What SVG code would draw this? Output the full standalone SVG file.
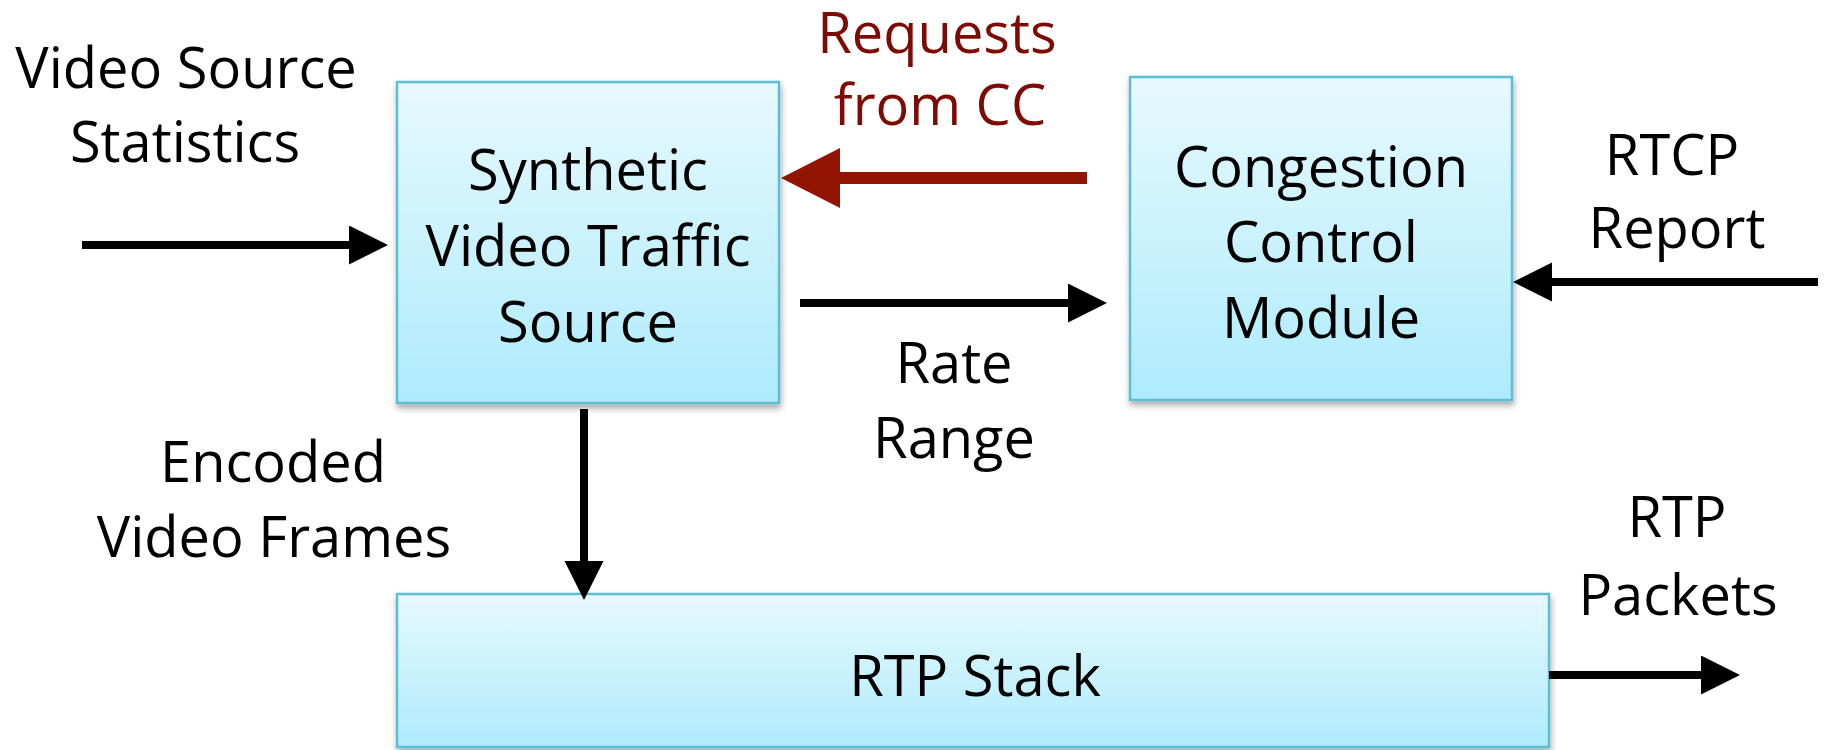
<svg xmlns="http://www.w3.org/2000/svg" width="1828" height="750" viewBox="0 0 1828 750">
  <defs>
    <linearGradient id="boxFill" x1="0" y1="0" x2="0" y2="1">
      <stop offset="0" stop-color="#E7F9FE"/>
      <stop offset="1" stop-color="#AEEBFC"/>
    </linearGradient>
    <filter id="shadow" x="-5%" y="-5%" width="115%" height="120%">
      <feDropShadow dx="1" dy="4" stdDeviation="3" flood-color="#000" flood-opacity="0.35"/>
    </filter>
    <marker id="headBlack" markerUnits="userSpaceOnUse" markerWidth="40" markerHeight="40" refX="0" refY="19.5" orient="auto">
      <path d="M0,0 L39,19.5 L0,39 Z" fill="#000"/>
    </marker>
    <marker id="headRed" markerUnits="userSpaceOnUse" markerWidth="60" markerHeight="62" refX="0" refY="30" orient="auto">
      <path d="M0,0 L59,30 L0,60 Z" fill="#921504"/>
    </marker>
  </defs>
  <style>
    .box { fill: url(#boxFill); stroke: #5DBDD5; stroke-width: 2.5; filter: url(#shadow); }
    .lbl { font-family: "Open Sans", "Noto Sans", "Liberation Sans", sans-serif; font-size: 56px; fill: #000; text-anchor: middle; }
    .inbox { font-size: 56px; }
    .red { fill: #7E0A04; }
    .conn { fill: none; stroke: #000; stroke-width: 8; marker-end: url(#headBlack); }
    .connRed { fill: none; stroke: #921504; stroke-width: 12; marker-end: url(#headRed); }
  </style>

  <g id="node-synthetic">
    <rect class="box" x="397" y="82" width="382" height="321"/>
    <text class="lbl inbox" x="588" y="190">Synthetic</text>
    <text class="lbl inbox" x="588" y="266">Video Traffic</text>
    <text class="lbl inbox" x="588" y="342">Source</text>
  </g>

  <g id="node-congestion">
    <rect class="box" x="1130" y="77" width="382" height="323"/>
    <text class="lbl inbox" x="1321" y="187">Congestion</text>
    <text class="lbl inbox" x="1321" y="262">Control</text>
    <text class="lbl inbox" x="1321" y="338">Module</text>
  </g>

  <g id="node-rtpstack">
    <rect class="box" x="397" y="594" width="1152" height="153"/>
    <text class="lbl" x="975" y="696">RTP Stack</text>
  </g>

  <g id="connectors">
    <path class="conn" d="M82,245 L349,245"/>
    <path class="conn" d="M800,303 L1068,303"/>
    <path class="conn" d="M1818,282 L1552,282"/>
    <path class="conn" d="M584,409 L584,561"/>
    <path class="conn" d="M1549,675 L1701,675"/>
    <path class="connRed" d="M1087,178 L840,178"/>
  </g>

  <g id="labels">
    <text class="lbl" x="186" y="88">Video Source</text>
    <text class="lbl" x="185" y="162">Statistics</text>
    <text class="lbl red" x="937" y="53">Requests</text>
    <text class="lbl red" x="940" y="125">from CC</text>
    <text class="lbl" x="954" y="383">Rate</text>
    <text class="lbl" x="954" y="458">Range</text>
    <text class="lbl" x="1672" y="175">RTCP</text>
    <text class="lbl" x="1677" y="248">Report</text>
    <text class="lbl" x="273" y="482">Encoded</text>
    <text class="lbl" x="274" y="557">Video Frames</text>
    <text class="lbl" x="1677" y="537">RTP</text>
    <text class="lbl" x="1678" y="615">Packets</text>
  </g>
</svg>
